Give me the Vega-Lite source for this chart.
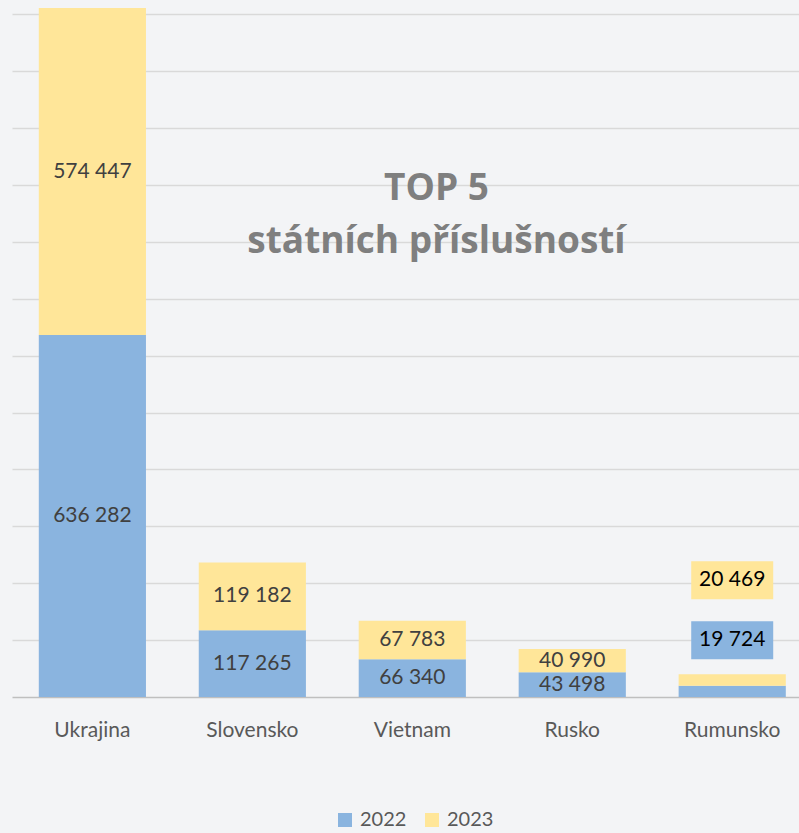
{
  "$schema": "https://vega.github.io/schema/vega-lite/v6.json",
  "autosize": "none",
  "width": 787,
  "height": 697,
  "padding": {"left": 12, "top": 0, "right": 0, "bottom": 136},
  "background": "#f3f4f6",
  "config": {
    "view": {"stroke": null},
    "locale": {"number": {"decimal": ",", "thousands": " ", "grouping": [3], "currency": ["", " Kč"]}},
    "font": "Lato"
  },
  "title": {
    "text": ["TOP 5", "státních příslušností"],
    "font": "Open Sans",
    "fontSize": 37,
    "fontWeight": "bold",
    "color": "#7f7f7f",
    "lineHeight": 53,
    "anchor": "middle",
    "frame": "group",
    "dx": 31,
    "dy": 265
  },
  "data": {
    "values": [
      {"country": "Ukrajina", "year": "2022", "value": 636282},
      {"country": "Ukrajina", "year": "2023", "value": 574447},
      {"country": "Slovensko", "year": "2022", "value": 117265},
      {"country": "Slovensko", "year": "2023", "value": 119182},
      {"country": "Vietnam", "year": "2022", "value": 66340},
      {"country": "Vietnam", "year": "2023", "value": 67783},
      {"country": "Rusko", "year": "2022", "value": 43498},
      {"country": "Rusko", "year": "2023", "value": 40990},
      {"country": "Rumunsko", "year": "2022", "value": 19724},
      {"country": "Rumunsko", "year": "2023", "value": 20469}
    ]
  },
  "encoding": {
    "x": {
      "field": "country",
      "type": "nominal",
      "sort": null,
      "scale": {"paddingInner": 0.33, "paddingOuter": 0.125, "align": 0.67},
      "axis": {
        "title": null,
        "labelAngle": 0,
        "labelFont": "Lato",
        "labelFontSize": 21,
        "labelColor": "#595959",
        "labelPadding": 22,
        "ticks": false,
        "domainColor": "#bfbfbf",
        "domainWidth": 1.5,
        "grid": false
      }
    }
  },
  "layer": [
    {
      "mark": {"type": "bar"},
      "encoding": {
        "y": {
          "field": "value",
          "type": "quantitative",
          "stack": "zero",
          "scale": {"domain": [0, 1225000], "nice": false},
          "axis": {
            "title": null,
            "labels": false,
            "ticks": false,
            "domain": false,
            "values": [100000, 200000, 300000, 400000, 500000, 600000, 700000, 800000, 900000, 1000000, 1100000, 1200000],
            "gridColor": "#d9d9d9",
            "gridWidth": 1.5
          }
        },
        "color": {
          "field": "year",
          "type": "nominal",
          "scale": {"domain": ["2022", "2023"], "range": ["#8ab4df", "#ffe699"]},
          "legend": {
            "title": null,
            "orient": "none",
            "legendX": 323,
            "legendY": 810,
            "direction": "horizontal",
            "symbolType": "square",
            "symbolSize": 196,
            "symbolStrokeWidth": 0,
            "symbolOpacity": 1,
            "labelFont": "Lato",
            "labelFontSize": 20,
            "labelColor": "#595959",
            "labelOffset": 5,
            "columnPadding": 15
          }
        },
        "order": {"field": "year", "sort": "ascending"}
      }
    },
    {
      "transform": [
        {"filter": "datum.country !== 'Rumunsko'"},
        {"stack": "value", "groupby": ["country"], "sort": [{"field": "year", "order": "ascending"}], "as": ["y0", "y1"]},
        {"fold": ["y0", "y1"], "as": ["edge", "pos"]},
        {"aggregate": [{"op": "mean", "field": "pos", "as": "mid"}], "groupby": ["country", "year", "value"]}
      ],
      "mark": {"type": "text", "font": "Lato", "fontSize": 21, "color": "#404040", "baseline": "middle"},
      "encoding": {
        "y": {"field": "mid", "type": "quantitative"},
        "text": {"field": "value", "type": "quantitative", "format": ",d"}
      }
    },
    {
      "transform": [
        {"filter": "datum.country === 'Rumunsko'"},
        {"joinaggregate": [{"op": "sum", "field": "value", "as": "total"}], "groupby": ["country"]},
        {"filter": "datum.year === '2022'"}
      ],
      "layer": [
        {
          "mark": {"type": "point", "filled": true, "opacity": 1, "shape": "M-1,-0.4634L1,-0.4634L1,0.4634L-1,0.4634Z", "size": 6724, "yOffset": -34, "color": "#8ab4df"},
          "encoding": {"y": {"field": "total", "type": "quantitative"}}
        },
        {
          "mark": {"type": "text", "font": "Lato", "fontSize": 21, "color": "#000000", "baseline": "middle", "yOffset": -34},
          "encoding": {
            "y": {"field": "total", "type": "quantitative"},
            "text": {"field": "value", "type": "quantitative", "format": ",d"}
          }
        }
      ]
    },
    {
      "transform": [
        {"filter": "datum.country === 'Rumunsko'"},
        {"joinaggregate": [{"op": "sum", "field": "value", "as": "total"}], "groupby": ["country"]},
        {"filter": "datum.year === '2023'"}
      ],
      "layer": [
        {
          "mark": {"type": "point", "filled": true, "opacity": 1, "shape": "M-1,-0.4634L1,-0.4634L1,0.4634L-1,0.4634Z", "size": 6724, "yOffset": -94, "color": "#ffe699"},
          "encoding": {"y": {"field": "total", "type": "quantitative"}}
        },
        {
          "mark": {"type": "text", "font": "Lato", "fontSize": 21, "color": "#000000", "baseline": "middle", "yOffset": -94},
          "encoding": {
            "y": {"field": "total", "type": "quantitative"},
            "text": {"field": "value", "type": "quantitative", "format": ",d"}
          }
        }
      ]
    }
  ]
}
